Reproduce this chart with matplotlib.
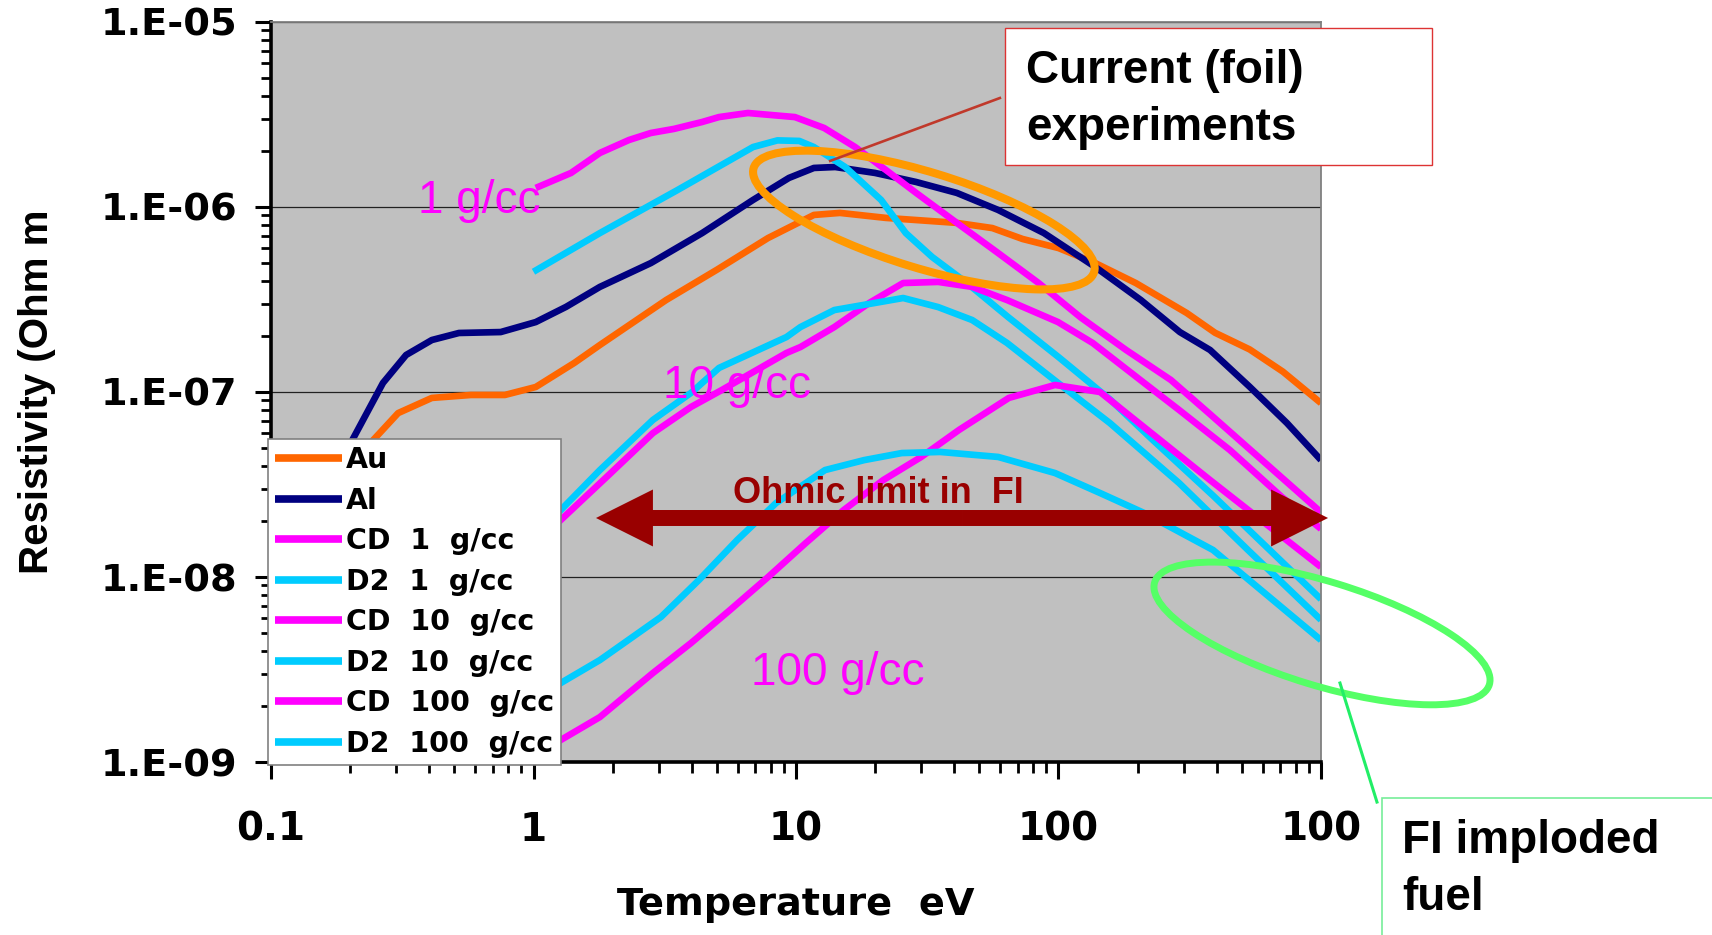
import numpy as np
import matplotlib
matplotlib.use('Agg')
import matplotlib.pyplot as plt
from matplotlib import font_manager
from matplotlib.patches import Ellipse, Rectangle, FancyArrowPatch, ArrowStyle
from matplotlib.lines import Line2D
from matplotlib.transforms import ScaledTranslation

# values: temperature (eV) and log10 of resistivity (Ohm m)
t_au = [0.1, 0.15, 0.2, 0.245, 0.305, 0.41, 0.578, 0.778, 1.02, 1.43, 1.79, 3.2, 5.0, 7.82, 11.7,
        14.7, 22, 41, 56, 73, 100, 138, 197, 308, 395, 535, 716, 1000]
lr_au = [-8.6, -8.0, -7.5, -7.26, -7.114, -7.032, -7.016, -7.016, -6.973, -6.843, -6.746, -6.503,
         -6.339, -6.168, -6.043, -6.032, -6.059, -6.086, -6.114, -6.173, -6.222, -6.303, -6.411,
         -6.573, -6.68, -6.77, -6.89, -7.06]

t_al = [0.1, 0.15, 0.204, 0.267, 0.327, 0.41, 0.52, 0.75, 1.02, 1.33, 1.79, 2.8, 4.39, 6.86, 9.4,
        11.7, 14.1, 20, 28.7, 41, 58.9, 88, 138, 206, 290, 378, 536, 742, 1000]
lr_al = [-8.4, -7.8, -7.26, -6.951, -6.8, -6.719, -6.681, -6.676, -6.622, -6.54, -6.432, -6.303,
         -6.141, -5.962, -5.843, -5.789, -5.784, -5.816, -5.865, -5.924, -6.016, -6.141, -6.324,
         -6.503, -6.676, -6.773, -6.973, -7.168, -7.368]

t_cd1 = [1.02, 1.39, 1.79, 2.31, 2.8, 3.43, 4.38, 5.09, 6.56, 9.9, 12.8, 16.8, 22, 28.7, 41, 58.9,
         84, 121, 181, 268, 378, 1000]
lr_cd1 = [-5.897, -5.816, -5.708, -5.638, -5.6, -5.578, -5.541, -5.514, -5.492, -5.514, -5.573,
          -5.676, -5.8, -5.924, -6.086, -6.249, -6.411, -6.595, -6.773, -6.935, -7.12, -7.65]

t_d21 = [1.0, 1.79, 3.5, 6.86, 8.5, 10.3, 11.7, 15.4, 21.1, 26.2, 33, 44.8, 64.3, 100, 158, 225,
         388, 1000]
lr_d21 = [-6.35, -6.141, -5.912, -5.676, -5.64, -5.643, -5.676, -5.784, -5.962, -6.141, -6.27,
          -6.411, -6.595, -6.811, -7.043, -7.25, -7.56, -8.12]

t_cd10 = [1.0, 1.27, 1.9, 2.85, 3.98, 5.22, 9.2, 10.4, 14, 19, 25.6, 34.8, 46.9, 63.7, 99.6, 135,
          212, 288, 450, 710, 1000]
lr_cd10 = [-7.83, -7.692, -7.459, -7.222, -7.081, -6.989, -6.789, -6.757, -6.649, -6.519, -6.411,
           -6.405, -6.432, -6.503, -6.622, -6.735, -6.951, -7.097, -7.314, -7.568, -7.74]

t_d210 = [1.0, 1.27, 1.79, 2.85, 3.98, 5.09, 9.2, 10.4, 14, 25.6, 34.8, 46.9, 63.7, 99.6, 157,
          288, 527, 1000]
lr_d210 = [-7.79, -7.638, -7.422, -7.151, -7.005, -6.87, -6.703, -6.649, -6.557, -6.492, -6.541,
           -6.611, -6.735, -6.951, -7.168, -7.492, -7.854, -8.232]

t_cd100 = [1.0, 1.27, 1.79, 2.85, 3.98, 5.61, 7.83, 10.9, 15.2, 21.5, 30, 41.8, 64.7, 97, 144,
           378, 1000]
lr_cd100 = [-8.97, -8.881, -8.757, -8.519, -8.357, -8.178, -8.0, -7.816, -7.638, -7.476, -7.351,
            -7.205, -7.032, -6.962, -7.0, -7.476, -7.946]

t_d2100 = [1.0, 1.27, 1.79, 3.06, 4.27, 5.97, 8.4, 12.9, 18.2, 25.3, 35.4, 58.9, 97, 144, 212,
           388, 1000]
lr_d2100 = [-8.66, -8.573, -8.449, -8.216, -8.016, -7.8, -7.6, -7.422, -7.368, -7.33, -7.324,
            -7.351, -7.438, -7.546, -7.654, -7.854, -8.341]

labels = ['Au', 'Al', 'CD  1  g/cc', 'D2  1  g/cc', 'CD  10  g/cc', 'D2  10  g/cc',
          'CD  100  g/cc', 'D2  100  g/cc']
temps = [t_au, t_al, t_cd1, t_d21, t_cd10, t_d210, t_cd100, t_d2100]
logres = [lr_au, lr_al, lr_cd1, lr_d21, lr_cd10, lr_d210, lr_cd100, lr_d2100]
colors = ['#FF6600', '#000080', '#FF00FF', '#00CCFF', '#FF00FF', '#00CCFF', '#FF00FF', '#00CCFF']

ytick_vals = [1e-9, 1e-8, 1e-7, 1e-6, 1e-5]
ytick_labels = ['1.E-09', '1.E-08', '1.E-07', '1.E-06', '1.E-05']
xtick_vals = [0.1, 1, 10, 100, 1000]
xtick_labels = ['0.1', '1', '10', '100', '100']

names = {f.name for f in font_manager.fontManager.ttflist}
if 'Liberation Sans Narrow' in names:
    ylab_font, ylab_size = ['Liberation Sans Narrow', 'DejaVu Sans'], 36
else:
    ylab_font, ylab_size = ['Liberation Sans', 'DejaVu Sans'], 29

plt.rcParams['font.family'] = ['DejaVu Sans']

fig = plt.figure(figsize=(17.12, 9.35), dpi=100)
ax = fig.add_axes([0.1583, 0.185, 0.6133, 0.7915])
ax.set_facecolor('#C0C0C0')

for t, lr, lab, c in zip(temps, logres, labels, colors):
    ax.plot(t, 10 ** np.array(lr), color=c, lw=4.8, label=lab, solid_capstyle='butt')

ax.set_xscale('log')
ax.set_yscale('log')
ax.set_xlim(0.1, 1000)
ax.set_ylim(1e-9, 1e-5)
ax.set_yticks(ytick_vals)
ax.set_yticklabels(ytick_labels)
ax.set_xticks(xtick_vals)
ax.set_xticklabels(xtick_labels)
ax.yaxis.grid(True, which='major', color='#222222', lw=0.9)
ax.set_axisbelow(True)

ax.tick_params(axis='y', which='major', direction='out', length=11.5, width=2.2, labelsize=27.5, pad=13)
ax.tick_params(axis='y', which='minor', direction='out', length=7, width=2)
ax.tick_params(axis='x', which='major', direction='out', length=12, width=2.2, labelsize=28, pad=23)
ax.tick_params(axis='x', which='minor', direction='out', length=8, width=2)
for lab in ax.get_xticklabels() + ax.get_yticklabels():
    lab.set_fontweight('bold')

for s in ['left', 'bottom']:
    ax.spines[s].set_linewidth(2.6)
    ax.spines[s].set_color('black')
for s in ['top', 'right']:
    ax.spines[s].set_linewidth(1.3)
    ax.spines[s].set_color('#808080')

ax.set_xlabel('Temperature  eV', fontsize=27.5, fontweight='bold', va='center')
ax.xaxis.set_label_coords(0.5, -0.193)
ax.set_ylabel('Resistivity (Ohm m', fontsize=ylab_size, fontweight='bold', family=ylab_font,
              ha='center', va='center')
ax.yaxis.set_label_coords(-0.2229, 0.5)

leg = ax.legend(loc='lower left', bbox_to_anchor=(-0.003, -0.004), borderaxespad=0,
                frameon=True, fancybox=False, framealpha=1, edgecolor='#808080',
                prop={'weight': 'bold', 'size': 20.5}, handlelength=2.35, handletextpad=0.15,
                labelspacing=0.44, borderpad=0.25)
leg.get_frame().set_linewidth(1.2)
leg.set_zorder(20)
for h in leg.get_lines():
    h.set_linewidth(5.5)

# density labels
ax.text(0.363, 10 ** -6.032, '1 g/cc', color='#FF00FF', fontsize=33, family='Liberation Sans',
        va='baseline', zorder=6)
ax.text(3.11, 10 ** -7.032, '10 g/cc', color='#FF00FF', fontsize=33, family='Liberation Sans',
        va='baseline', zorder=6)
ax.text(6.75, 10 ** -8.584, '100 g/cc', color='#FF00FF', fontsize=33, family='Liberation Sans',
        va='baseline', zorder=6)

# ohmic limit double arrow
dark_red = '#990000'
ax.text(5.77, 10 ** -7.6, 'Ohmic limit in  FI', color=dark_red, fontsize=26, fontweight='bold',
        family='Liberation Sans', va='baseline', zorder=8)
arr_y = 10 ** -7.681
arr_mid = 42.9
for tip in [1.73, 1064]:
    ax.add_patch(FancyArrowPatch((arr_mid, arr_y), (tip, arr_y),
                                 arrowstyle=ArrowStyle.Simple(head_length=41, head_width=41,
                                                              tail_width=11.5),
                                 mutation_scale=1, shrinkA=0, shrinkB=0, color=dark_red,
                                 lw=0, zorder=8, clip_on=False))

# orange ellipse around current foil experiments
tr_or = fig.dpi_scale_trans + ScaledTranslation(30.7, 8.5e-7, ax.transData)
ax.add_patch(Ellipse((0, 0), 3.56, 0.96, angle=-17, transform=tr_or, fill=False,
                     edgecolor='#FF9900', lw=5.8, zorder=9, clip_on=False))
ax.plot([13.5, 59.8], [10 ** -5.751, 10 ** -5.411], color='#C0392B', lw=1.9, zorder=10,
        clip_on=False)

# green ellipse around imploded fuel
tr_gr = fig.dpi_scale_trans + ScaledTranslation(1009, 10 ** -8.305, ax.transData)
ax.add_patch(Ellipse((0, 0), 3.5, 1.04, angle=-17, transform=tr_gr, fill=False,
                     edgecolor='#55FF66', lw=5, zorder=9, clip_on=False))
fig.add_artist(Line2D([0.7827, 0.8043], [0.2695, 0.1422], color='#22EE66', lw=2.2))

# callout boxes
fig.add_artist(Rectangle((0.587, 0.8235), 0.2494, 0.1465, facecolor='white',
                         edgecolor='#DD3333', lw=1.0, zorder=30))
fig.text(0.5993, 0.9112, 'Current (foil)', fontsize=33, fontweight='bold',
         family='Liberation Sans', va='baseline', zorder=31)
fig.text(0.5993, 0.8503, 'experiments', fontsize=33, fontweight='bold',
         family='Liberation Sans', va='baseline', zorder=31)

fig.add_artist(Rectangle((0.8072, -0.02), 0.25, 0.1665, facecolor='white',
                         edgecolor='#77EE99', lw=1.2, zorder=30))
fig.text(0.8192, 0.0877, 'FI imploded', fontsize=33, fontweight='bold',
         family='Liberation Sans', va='baseline', zorder=31)
fig.text(0.8192, 0.0267, 'fuel', fontsize=33, fontweight='bold',
         family='Liberation Sans', va='baseline', zorder=31)

fig.savefig('out.png', dpi=100)
